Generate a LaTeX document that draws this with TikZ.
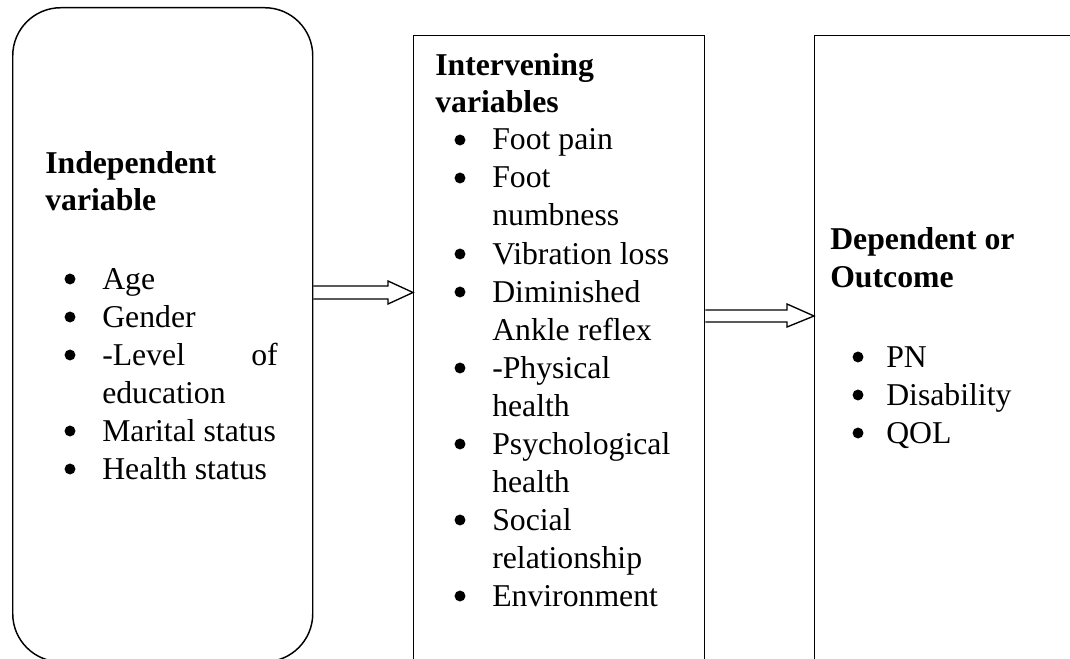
\documentclass[tikz,border=0pt]{standalone}
\usepackage{fontspec}
\setmainfont{Liberation Serif}
\newcommand\myfs{\fontsize{23.8pt}{28.5pt}\selectfont}
\begin{document}
\begin{tikzpicture}[x=0.75pt,y=-0.75pt,
  box/.style={draw, line width=1.1pt, anchor=north west, inner sep=0pt},
  head/.style={anchor=base west, inner sep=0pt, font=\myfs\bfseries},
  txt/.style={anchor=base west, inner sep=0pt, font=\myfs},
  bul/.style={circle, fill, inner sep=0pt, minimum size=8.2pt, yshift=7.5pt},
  blockarr/.style={draw, line width=1pt, line join=miter}]
\clip (0,0) rectangle (1070,659);
% boxes
\node[box, rounded corners=36pt, minimum width=225pt, minimum height=490.5pt] (L) at (12,7) {};
\node[box, minimum width=218.25pt, minimum height=498.75pt] (M) at (413,35) {};
\node[box, minimum width=214.5pt, minimum height=498.75pt] (R) at (814,35) {};
% left box text
\node[head] (lh1) at (45,174) {Independent};
\node[head] (lh2) at (45,211) {variable};
\node[bul] (lb1) at (70,289) {};
\node[txt] (lt1) at (102,289) {Age};
\node[bul] (lb2) at (70,327) {};
\node[txt] (lt2) at (102,327) {Gender};
\node[bul] (lb3) at (70,365) {};
\node[txt] (lt3) at (102,365) {-Level};
\node[txt, anchor=base east] (lt3b) at (278,365) {of};
\node[txt] (lt3c) at (102,403) {education};
\node[bul] (lb4) at (70,441) {};
\node[txt] (lt4) at (102,441) {Marital status};
\node[bul] (lb5) at (70,479) {};
\node[txt] (lt5) at (102,479) {Health status};
% middle box text
\node[head] (mh1) at (435,76) {Intervening};
\node[head] (mh2) at (435,113) {variables};
\node[bul] (mb1) at (460,150) {};
\node[txt] (mt1) at (492,150) {Foot pain};
\node[bul] (mb2) at (460,188) {};
\node[txt] (mt2) at (492,188) {Foot};
\node[txt] (mt2b) at (492,226) {numbness};
\node[bul] (mb3) at (460,264) {};
\node[txt] (mt3) at (492,264) {Vibration loss};
\node[bul] (mb4) at (460,302) {};
\node[txt] (mt4) at (492,302) {Diminished};
\node[txt] (mt4b) at (492,340) {Ankle reflex};
\node[bul] (mb5) at (460,378) {};
\node[txt] (mt5) at (492,378) {-Physical};
\node[txt] (mt5b) at (492,416) {health};
\node[bul] (mb6) at (460,454) {};
\node[txt] (mt6) at (492,454) {Psychological};
\node[txt] (mt6b) at (492,492) {health};
\node[bul] (mb7) at (460,530) {};
\node[txt] (mt7) at (492,530) {Social};
\node[txt] (mt7b) at (492,568) {relationship};
\node[bul] (mb8) at (460,606) {};
\node[txt] (mt8) at (492,606) {Environment};
% right box text
\node[head] (rh1) at (830,250) {Dependent or};
\node[head] (rh2) at (830,287) {Outcome};
\node[bul] (rb1) at (858,367) {};
\node[txt] (rt1) at (886,367) {PN};
\node[bul] (rb2) at (858,405) {};
\node[txt] (rt2) at (886,405) {Disability};
\node[bul] (rb3) at (858,443) {};
\node[txt] (rt3) at (886,443) {QOL};
% block arrows
\draw[blockarr] (L.east |- 0,286) -- (388,286) -- (388,281) -- (M.west |- 0,292.5)
  -- (388,304) -- (388,299) -- (L.east |- 0,299);
\draw[blockarr] (M.east |- 0,310) -- (787,310) -- (787,304) -- (R.west |- 0,316)
  -- (787,327) -- (787,322) -- (M.east |- 0,322);
\end{tikzpicture}
\end{document}
